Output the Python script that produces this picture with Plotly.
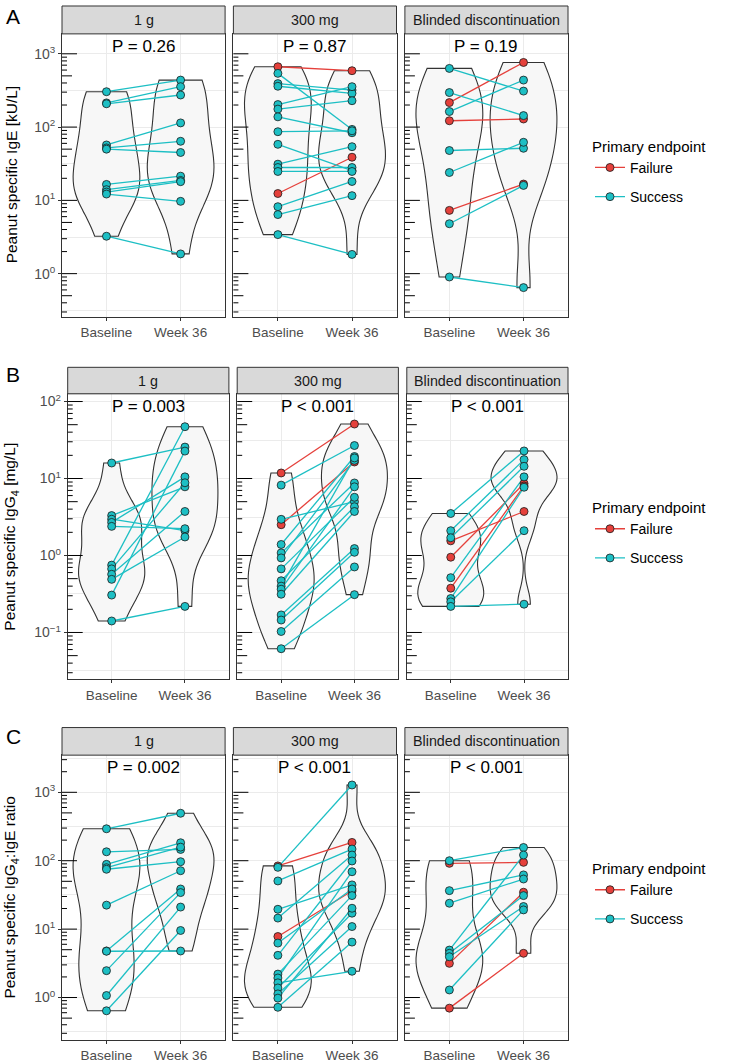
import numpy as np
import plotly.graph_objects as go

W, H = 732, 1063
FONT = "Liberation Sans, Arial, Helvetica, sans-serif"
RED = "#E5403B"
TEAL = "#1DBFC4"

# ---------------- data ----------------
facets = ["1 g", "300 mg", "Blinded discontinuation"]
timepoints = ["Baseline", "Week 36"]
groups = ["Failure", "Success"]
row_titles = ["Peanut specific IgE [kU/L]",
              "Peanut specific IgG<sub>4</sub> [mg/L]",
              "Peanut specific IgG<sub>4</sub>:IgE ratio"]
row_letters = ["A", "B", "C"]
p_ige = ["P = 0.26", "P = 0.87", "P = 0.19"]
p_igg4 = ["P = 0.003", "P < 0.001", "P < 0.001"]
p_ratio = ["P = 0.002", "P < 0.001", "P < 0.001"]

# IgE
ige_1g_base = [304, 214, 208, 57, 52, 50, 16.5, 14, 13, 12.2, 3.24]
ige_1g_w36 = [438, 356, 274, 114, 64, 45, 21.4, 18.7, 18, 9.7, 1.86]
ige_1g_grp = ["S"] * 11

ige_300_base = [666, 541, 392, 361, 203, 176, 138, 86.5, 58.2, 31.2, 28.1, 24.8, 12.4, 8.2, 6.4, 3.41]
ige_300_w36 = [588, 93, 320, 289, 356, 229, 83.7, 89, 25.5, 54, 28.1, 24.8, 38.8, 18.1, 11.6, 1.83]
ige_300_grp = ["F", "S", "S", "S", "S", "S", "S", "S", "S", "S", "S", "S", "F", "S", "S", "S"]

ige_bd_base = [216, 122, 7.3, 632, 296, 163, 47.9, 24, 4.8, 0.90]
ige_bd_w36 = [762, 129, 16.7, 310, 143.6, 438, 51.4, 62, 16.0, 0.645]
ige_bd_grp = ["F", "F", "F", "S", "S", "S", "S", "S", "S", "S"]

# IgG4
igg4_1g_base = [15.9, 0.141, 3.30, 2.96, 2.69, 2.39, 0.75, 0.67, 0.57, 0.49, 0.306]
igg4_1g_w36 = [25.6, 0.218, 7.8, 2.1, 10.5, 2.23, 47.1, 8.8, 3.73, 1.74, 22.7]
igg4_1g_grp = ["S"] * 11

igg4_300_base = [11.8, 2.51, 8.2, 2.95, 1.39, 1.08, 0.93, 0.67, 0.47, 0.40, 0.365, 0.314, 0.169, 0.145, 0.103, 0.0615]
igg4_300_w36 = [51, 16.4, 26.8, 5.0, 19.3, 8.75, 17.2, 5.7, 4.3, 18.5, 7.8, 3.73, 1.23, 1.10, 0.71, 0.31]
igg4_300_grp = ["F", "F"] + ["S"] * 14

igg4_bd_base = [3.51, 2.1, 1.70, 1.55, 0.95, 0.515, 0.376, 0.276, 0.25, 0.218]
igg4_bd_w36 = [22.8, 17.6, 14.4, 3.73, 8.6, 10.5, 8.0, 7.7, 2.1, 0.233]
igg4_bd_grp = ["S", "S", "S", "F", "F", "S", "F", "S", "S", "S"]

# IgG4:IgE ratio
ratio_1g_base = [293, 135, 88.5, 79, 75, 22.4, 4.8, 4.75, 2.47, 1.07, 0.64]
ratio_1g_w36 = [494, 146, 183, 158, 96.7, 71.4, 38.6, 4.79, 34.2, 21, 9.55]
ratio_1g_grp = ["S"] * 11

ratio_300_base = [84, 7.8, 80, 50.6, 19.5, 14.5, 6.25, 4.14, 2.2, 1.93, 1.64, 1.38, 1.13, 0.98, 0.72]
ratio_300_w36 = [185, 36.1, 1279, 148, 44.3, 121, 38.6, 99, 30.9, 69, 2.42, 17.1, 10.9, 20.2, 6.46]
ratio_300_grp = ["F", "F"] + ["S"] * 13

ratio_bd_base = [100, 91.5, 36.5, 23.9, 4.94, 4.43, 3.95, 3.16, 1.29, 0.70]
ratio_bd_w36 = [156, 94.6, 62, 54, 121, 30.9, 21.4, 34.6, 19.1, 4.43]
ratio_bd_grp = ["S", "F", "S", "S", "S", "S", "S", "F", "S", "F"]

rows = [
    [(ige_1g_base, ige_1g_w36, ige_1g_grp), (ige_300_base, ige_300_w36, ige_300_grp), (ige_bd_base, ige_bd_w36, ige_bd_grp)],
    [(igg4_1g_base, igg4_1g_w36, igg4_1g_grp), (igg4_300_base, igg4_300_w36, igg4_300_grp), (igg4_bd_base, igg4_bd_w36, igg4_bd_grp)],
    [(ratio_1g_base, ratio_1g_w36, ratio_1g_grp), (ratio_300_base, ratio_300_w36, ratio_300_grp), (ratio_bd_base, ratio_bd_w36, ratio_bd_grp)],
]
p_rows = [p_ige, p_igg4, p_ratio]

# ---------------- layout geometry (pixels) ----------------
row_y = [(32, 316), (393.3, 680), (756, 1042)]
strip_y = [(4, 32), (366.7, 393.3), (728.3, 756)]
row_x = [[(62, 225.1), (233.4, 396.5), (404.9, 568)],
         [(67.7, 228.9), (237.2, 398.4), (406.8, 568)],
         [(62, 225.1), (233.4, 396.5), (404.9, 568)]]
yranges = [(-0.589, 3.272), (-1.61, 2.10), (-0.622, 3.543)]
letter_y = [14.5, 373.5, 737.5]


def px_x(x):
    return x / W


def px_y(y):
    return 1 - y / H


def nrd0(v):
    v = np.asarray(v, dtype=float)
    n = len(v)
    sd = np.std(v, ddof=1)
    q75, q25 = np.percentile(v, [75, 25])
    lo = min(sd, (q75 - q25) / 1.34)
    if lo <= 0:
        lo = sd if sd > 0 else 1.0
    return 0.9 * lo * n ** (-0.2)


def supexp(k):
    s = str(k).replace("-", "\u2212")
    return f"10<sup>{s}</sup>"


fig = go.Figure()
layout = dict(width=W, height=H, margin=dict(l=0, r=0, t=0, b=0),
              paper_bgcolor="white", plot_bgcolor="white",
              font=dict(family=FONT, color="#1A1A1A"),
              violinmode="overlay", hovermode=False)
shapes = []
annotations = []
gcolor = {"F": RED, "S": TEAL}
gname = {"F": "Failure", "S": "Success"}

for r in range(3):
    lo, hi = yranges[r]
    legend_id = "legend" if r == 0 else f"legend{r + 1}"
    shown = set()
    for c in range(3):
        idx = r * 3 + c + 1
        sfx = "" if idx == 1 else str(idx)
        xa, ya = "x" + sfx, "y" + sfx
        x0, x1 = row_x[r][c]
        y0, y1 = row_y[r]
        base, w36, grp = rows[r][c]
        lb = np.log10(base)
        lw = np.log10(w36)

        # violins
        for xi, vals in ((1, lb), (2, lw)):
            fig.add_trace(go.Violin(
                x=np.full(len(vals), xi), y=vals, xaxis=xa, yaxis=ya,
                orientation="v", width=0.9, scalegroup=f"g{idx}", scalemode="width",
                spanmode="hard", bandwidth=nrd0(vals), points=False,
                fillcolor="#F7F7F7", line=dict(color="#333333", width=1.1),
                hoverinfo="skip", showlegend=False))

        # connecting lines
        for g in ("F", "S"):
            xs, ys = [], []
            for b, w, gg in zip(lb, lw, grp):
                if gg == g:
                    xs += [1, 2, None]
                    ys += [b, w, None]
            if xs:
                fig.add_trace(go.Scatter(x=xs, y=ys, xaxis=xa, yaxis=ya, mode="lines",
                                         line=dict(color=gcolor[g], width=1.3),
                                         hoverinfo="skip", showlegend=False))
        # points
        for g in ("F", "S"):
            xs, ys = [], []
            for b, w, gg in zip(lb, lw, grp):
                if gg == g:
                    xs += [1, None, 2, None]
                    ys += [b, None, w, None]
            if xs:
                show = g not in shown
                shown.add(g)
                fig.add_trace(go.Scatter(
                    x=xs, y=ys, xaxis=xa, yaxis=ya, mode="lines+markers",
                    marker=dict(size=8, color=gcolor[g], line=dict(color="#1A1A1A", width=0.8)),
                    line=dict(color=gcolor[g], width=1.3), connectgaps=False,
                    name=gname[g], legend=legend_id, legendgroup=f"{g}{r}",
                    legendrank=1 if g == "F" else 2,
                    showlegend=show, hoverinfo="skip"))

        # axes
        tickvals = [k for k in range(int(np.floor(lo)), int(np.ceil(hi)) + 1) if lo <= k <= hi]
        minorvals = [k + 0.5 for k in range(int(np.floor(lo)) - 1, int(np.ceil(hi)) + 1) if lo <= k + 0.5 <= hi]
        layout["xaxis" + sfx] = dict(
            domain=[px_x(x0), px_x(x1)], anchor=ya, range=[0.4, 2.6],
            tickmode="array", tickvals=[1, 2], ticktext=timepoints,
            ticks="outside", ticklen=3, tickcolor="#333333",
            tickfont=dict(size=13.5, color="#4D4D4D", family=FONT),
            showgrid=True, gridcolor="#EBEBEB", gridwidth=1, zeroline=False,
            showline=True, mirror=True, linecolor="#333333", linewidth=1, fixedrange=True)
        layout["yaxis" + sfx] = dict(
            domain=[px_y(y1), px_y(y0)], anchor=xa, range=[lo, hi],
            tickmode="array", tickvals=tickvals, ticktext=[supexp(k) for k in tickvals],
            showticklabels=(c == 0), ticks="outside" if c == 0 else "",
            ticklen=3, tickcolor="#333333",
            tickfont=dict(size=14, color="#4D4D4D", family=FONT),
            showgrid=True, gridcolor="#EBEBEB", gridwidth=1, zeroline=False,
            minor=dict(tickmode="array", tickvals=minorvals, showgrid=True,
                       gridcolor="#EBEBEB", gridwidth=0.6, ticks=""),
            showline=True, mirror=True, linecolor="#333333", linewidth=1, fixedrange=True)

        # log ticks inside the panel
        pw = x1 - x0
        for k in range(int(np.floor(lo)), int(np.ceil(hi)) + 1):
            for m in range(1, 10):
                v = k + np.log10(m)
                if lo <= v <= hi:
                    L = 15 if m == 1 else (10 if m == 5 else 5)
                    shapes.append(dict(type="line", xref=f"{xa} domain", yref=ya,
                                       x0=0, x1=L / pw, y0=v, y1=v,
                                       line=dict(color="black", width=1)))

        # strip
        sy0, sy1 = strip_y[r]
        shapes.append(dict(type="rect", xref="paper", yref="paper",
                           x0=px_x(x0), x1=px_x(x1), y0=px_y(sy1), y1=px_y(sy0),
                           fillcolor="#D9D9D9", line=dict(color="#333333", width=1)))
        annotations.append(dict(text=facets[c], xref="paper", yref="paper",
                                x=px_x((x0 + x1) / 2), y=px_y((sy0 + sy1) / 2),
                                xanchor="center", yanchor="middle", showarrow=False,
                                font=dict(size=14.3, color="#1A1A1A", family=FONT)))
        # P value
        annotations.append(dict(text=p_rows[r][c], xref=f"{xa} domain", yref=f"{ya} domain",
                                x=0.5, y=1 - 12.5 / (y1 - y0), xanchor="center", yanchor="middle",
                                showarrow=False, font=dict(size=17, color="black", family=FONT)))

    # row title and letter
    y0, y1 = row_y[r]
    annotations.append(dict(text=row_titles[r], xref="paper", yref="paper",
                            x=px_x(11), y=px_y((y0 + y1) / 2), textangle=-90,
                            xanchor="center", yanchor="middle", showarrow=False,
                            font=dict(size=15.5, color="black", family=FONT)))
    annotations.append(dict(text=row_letters[r], xref="paper", yref="paper",
                            x=px_x(13), y=px_y(letter_y[r]), xanchor="center", yanchor="middle",
                            showarrow=False, font=dict(size=21, color="black", family=FONT)))
    layout[legend_id] = dict(
        x=px_x(590), y=px_y((y0 + y1) / 2 - 3), xanchor="left", yanchor="middle",
        title=dict(text="Primary endpoint", font=dict(size=15, color="black", family=FONT)),
        font=dict(size=14, color="black", family=FONT), bgcolor="rgba(0,0,0,0)",
        tracegroupgap=8, itemwidth=30, traceorder="grouped")

layout["shapes"] = shapes
layout["annotations"] = annotations
fig.update_layout(**layout)
fig.write_html("out.html", config={"displayModeBar": False, "staticPlot": False},
               post_script="document.body.style.margin='0px';document.body.style.padding='0px';")
